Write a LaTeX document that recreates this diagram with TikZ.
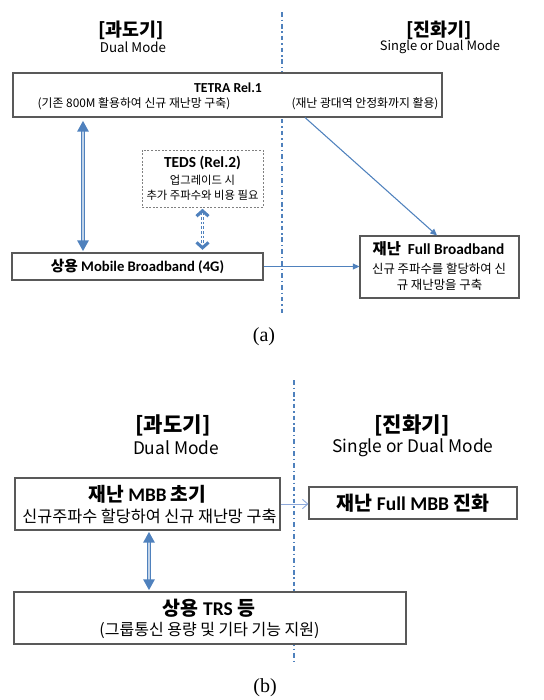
\documentclass[tikz,border=0pt]{standalone}
\usepackage{fontspec}
\setmainfont{Carlito}
\newfontfamily\kr{Noto Sans CJK KR}
\newfontfamily\capfont{Liberation Serif}
\usetikzlibrary{arrows.meta}
\definecolor{ablue}{HTML}{4F81BD}
\definecolor{lblue}{HTML}{8EA9DB}
\definecolor{boxgray}{HTML}{595959}
\begin{document}
\begin{tikzpicture}[x=0.75pt,y=-0.75pt,
  box/.style={draw=boxgray, line width=0.8pt, inner sep=0pt, fill=white},
  dbox/.style={draw=gray, line width=0.7pt, dash pattern=on 1.5pt off 1.2pt, inner sep=0pt},
  divider/.style={draw=ablue, line width=0.9pt, dash pattern=on 3.5pt off 2.2pt on 1pt off 2.2pt},
  dblarrow/.style={draw=ablue, line width=0.9pt, double=ablue!35!white, double distance=1.1pt,
     {Triangle[length=8pt,width=8.5pt]}-{Triangle[length=8pt,width=8.5pt]}},
  tedsarrow/.style={draw=ablue, line width=0.8pt, double=white, double distance=1pt, dash pattern=on 2pt off 1.5pt,
     {Straight Barb[length=4pt,width=9pt,line width=2.3pt]}-{Straight Barb[length=4pt,width=9pt,line width=2.3pt]}},
  thinarrow/.style={draw=ablue, line width=0.8pt, -{Triangle[length=5pt,width=4.5pt]}},
  openarrow/.style={draw=lblue, line width=0.7pt, -{Straight Barb[length=4pt,width=7pt]}},
  txt/.style={inner sep=0pt},
  hd/.style={inner sep=0pt, font=\kr\bfseries},
  sub/.style={inner sep=0pt, font=\kr},
]
\useasboundingbox (0,0) rectangle (543,700);

% ---------------- (a) ----------------
\coordinate (divAtop) at (282,12);
\coordinate (divAbot) at (282,313);
\draw[divider] (divAtop) -- (divAbot);

\node[hd, font=\kr\bfseries\fontsize{13.8}{15}\selectfont] (hA1) at (131,30) {[과도기]};
\node[sub, font=\kr\fontsize{10}{12}\selectfont] (hA1s) at (133,47) {Dual Mode};
\node[hd, font=\kr\bfseries\fontsize{13.8}{15}\selectfont] (hA2) at (439,30) {[진화기]};
\node[sub, font=\kr\fontsize{9.7}{12}\selectfont] (hA2s) at (440,47) {Single or Dual Mode};

\node[box, minimum width=321.75pt, minimum height=33pt] (tetra) at (227.5,95) {};
\node[txt, font=\bfseries\fontsize{10.3}{12}\selectfont] (tetraT) at (228,88) {TETRA Rel.1};
\node[sub, font=\kr\fontsize{8.9}{10}\selectfont] (tetraL) at (134,104) {(기존 800M 활용하여 신규 재난망 구축)};
\node[sub, font=\kr\fontsize{8.9}{10}\selectfont] (tetraR) at (365,104) {(재난 광대역 안정화까지 활용)};

\node[dbox, minimum width=90.75pt, minimum height=42.75pt] (teds) at (202.5,178.5) {};
\node[txt, font=\bfseries\fontsize{11.5}{13}\selectfont] (tedsT) at (202.5,163) {TEDS (Rel.2)};
\node[sub, font=\kr\fontsize{8.5}{10}\selectfont] (tedsL1) at (202.5,180.5) {업그레이드 시};
\node[sub, font=\kr\fontsize{8.5}{10}\selectfont] (tedsL2) at (202.5,195) {추가 주파수와 비용 필요};

\node[box, minimum width=188.25pt, minimum height=20.25pt] (mbba) at (137.5,266.5)
  {\bfseries\fontsize{11}{12}\selectfont {\kr 상용} Mobile Broadband (4G)};

\node[box, minimum width=119.25pt, minimum height=46.5pt] (fullbb) at (439.5,267) {};
\node[txt, font=\bfseries\fontsize{11.5}{13}\selectfont] (fullbbT) at (438.5,249) {{\kr 재난}~ Full Broadband};
\node[sub, font=\kr\fontsize{9.3}{11}\selectfont] (fullbbL1) at (439,269) {신규 주파수를 할당하여 신};
\node[sub, font=\kr\fontsize{9.3}{11}\selectfont] (fullbbL2) at (439.5,284.5) {규 재난망을 구축};

\coordinate (ax) at (83,0);
\coordinate (t1) at (305,0);
\coordinate (t2) at (437,0);
\draw[dblarrow] ([yshift=-2.5pt]tetra.south -| ax) -- ([yshift=1pt]mbba.north -| ax);
\draw[tedsarrow] ([yshift=-1pt]teds.south) -- ([yshift=2pt]mbba.north -| teds.south);
\draw[thinarrow] (mbba.east) -- (fullbb.west |- mbba.east);
\draw[thinarrow] (tetra.south -| t1) -- (fullbb.north -| t2);

\node[txt, font=\capfont\fontsize{15}{17}\selectfont] (capA) at (264,337) {(a)};

% ---------------- (b) ----------------
\coordinate (divBtop) at (294,380);
\coordinate (divBbot) at (294,662);
\draw[divider] (divBtop) -- (divBbot);

\node[hd, font=\kr\bfseries\fontsize{15.8}{18}\selectfont] (hB1) at (173,425) {[과도기]};
\node[sub, font=\kr\fontsize{13}{15}\selectfont] (hB1s) at (176,448) {Dual Mode};
\node[hd, font=\kr\bfseries\fontsize{15.8}{18}\selectfont] (hB2) at (412,425) {[진화기]};
\node[sub, font=\kr\fontsize{13}{15}\selectfont] (hB2s) at (413,448) {Single or Dual Mode};

\node[box, minimum width=198.75pt, minimum height=39pt] (mbbb) at (147.5,504) {};
\node[txt, font=\bfseries\fontsize{14.4}{16}\selectfont] (mbbbT) at (147.5,494) {{\kr 재난} MBB {\kr 초기}};
\node[sub, font=\kr\fontsize{12.2}{14}\selectfont] (mbbbL) at (149.5,516) {신규주파수 할당하여 신규 재난망 구축};

\node[box, minimum width=156pt, minimum height=24pt] (fullmbb) at (413,503)
  {\bfseries\fontsize{14.6}{16}\selectfont {\kr 재난} Full MBB {\kr 진화}};

\node[box, minimum width=294pt, minimum height=39pt] (trs) at (210,618) {};
\node[txt, font=\bfseries\fontsize{14.6}{16}\selectfont] (trsT) at (209,608) {{\kr 상용} TRS {\kr 등}};
\node[sub, font=\kr\fontsize{12}{14}\selectfont] (trsL) at (209.5,630) {(그룹통신 용량 및 기타 기능 지원)};

\coordinate (bx) at (149,0);
\draw[openarrow] (mbbb.east) -- (fullmbb.west |- mbbb.east);
\draw[dblarrow] ([yshift=-1pt]mbbb.south -| bx) -- ([yshift=1pt]trs.north -| bx);

\node[txt, font=\capfont\fontsize{15}{17}\selectfont] (capB) at (265,688) {(b)};
\end{tikzpicture}
\end{document}
